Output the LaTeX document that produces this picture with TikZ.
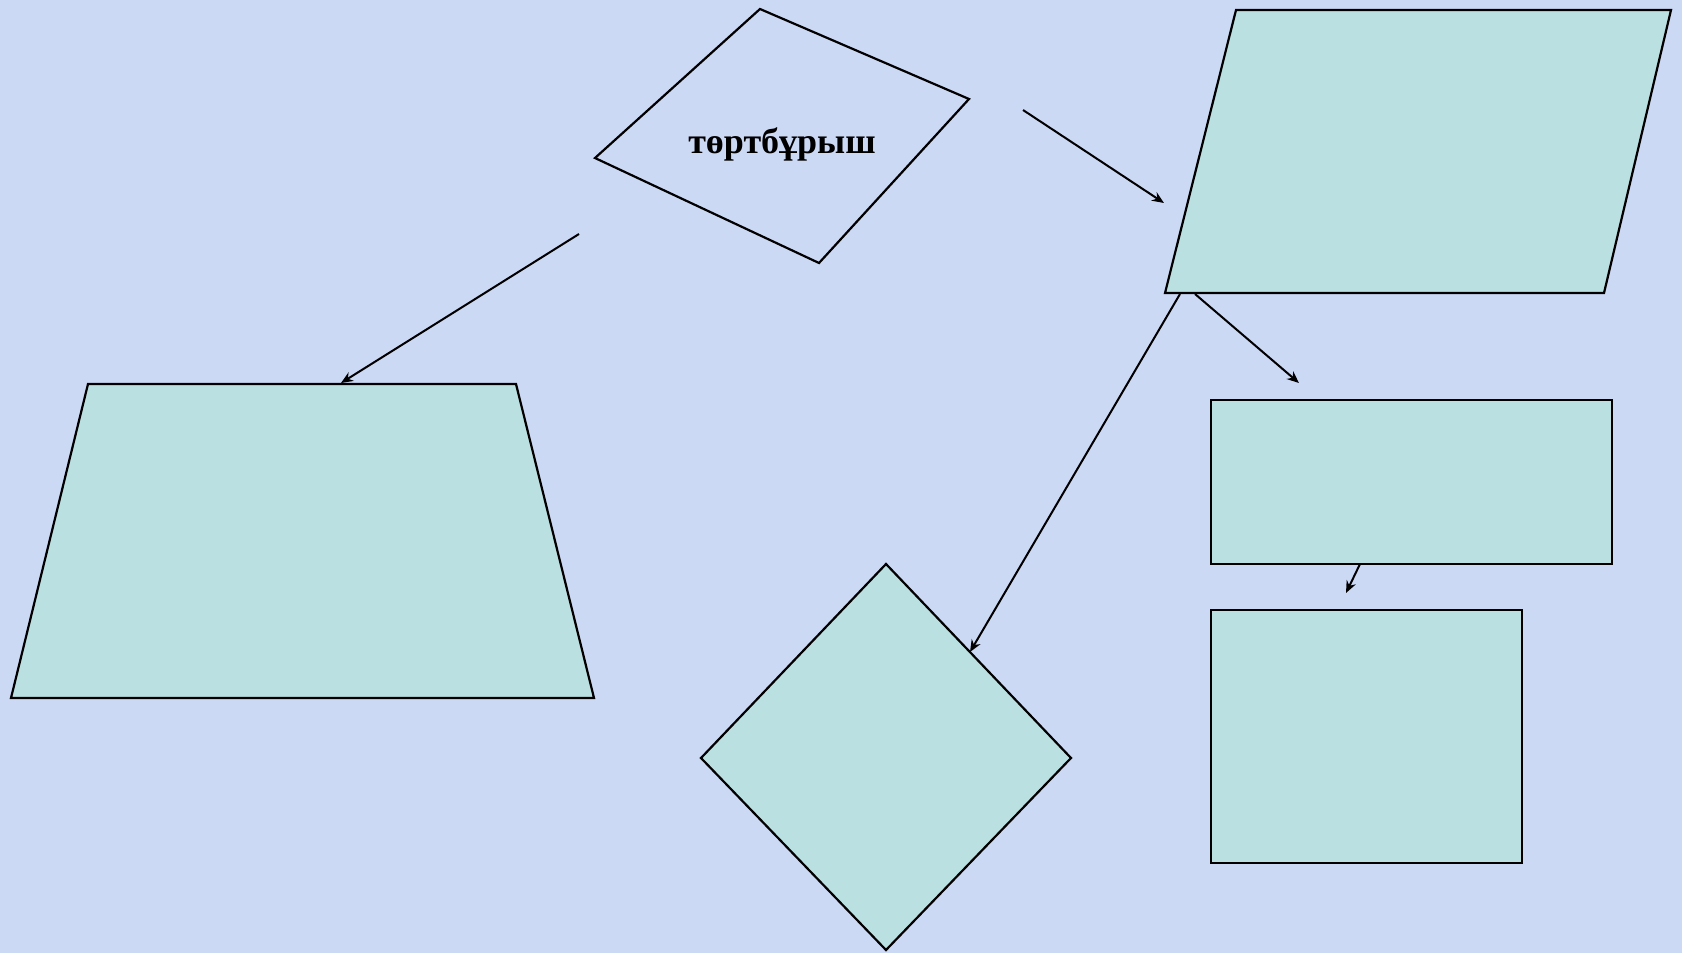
\documentclass[tikz,border=0pt]{standalone}
\usepackage{fontspec}
\setmainfont{Liberation Serif}
\usetikzlibrary{arrows.meta}
\definecolor{PageLilac}{RGB}{204,217,245}
\definecolor{ShapeTeal}{RGB}{186,224,226}
\tikzset{
  shapebox/.style={draw=black,fill=ShapeTeal,line width=1.1pt},
  outlinebox/.style={draw=black,line width=1.1pt},
  linkarrow/.style={-{Stealth[length=6pt,width=5pt]},line width=1pt,draw=black},
  titletext/.style={font=\bfseries\fontsize{18}{21}\selectfont,inner sep=0pt}
}

\begin{document}
\begin{tikzpicture}[x=0.5pt,y=-0.5pt]
% page
\fill[PageLilac] (0,0) rectangle (1682,953);
\useasboundingbox (0,0) rectangle (1682,953);
% top: the word
\coordinate (q1) at (760,9);
\coordinate (q2) at (969,99);
\coordinate (q3) at (819,263);
\coordinate (q4) at (595,158);
\draw[outlinebox] (q1) -- (q2) -- (q3) -- (q4) -- cycle;
\node[titletext, anchor=base] (title) at (782,153) {төртбұрыш};
% right: parallelogram
\coordinate (p1) at (1236,10);
\coordinate (p2) at (1671,10);
\coordinate (p3) at (1604,293);
\coordinate (p4) at (1165,293);
\draw[shapebox] (p1) -- (p2) -- (p3) -- (p4) -- cycle;
% left: trapezoid
\coordinate (t1) at (88,384);
\coordinate (t2) at (516,384);
\coordinate (t3) at (594,698);
\coordinate (t4) at (11,698);
\draw[shapebox] (t1) -- (t2) -- (t3) -- (t4) -- cycle;
% right: rectangle and square
\node[shapebox, anchor=north west, minimum width=200.5pt, minimum height=82pt, inner sep=0pt] (rect) at (1210,399) {};
\node[shapebox, anchor=north west, minimum width=155.5pt, minimum height=126.5pt, inner sep=0pt] (sq) at (1210,609) {};
% bottom: rhombus
\coordinate (r1) at (886,564);
\coordinate (r2) at (1071,758);
\coordinate (r3) at (886,950);
\coordinate (r4) at (701,758);
\draw[shapebox] (r1) -- (r2) -- (r3) -- (r4) -- cycle;
% arrows
\coordinate (a1s) at (1023,110);
\coordinate (a1e) at (1164,203);
\coordinate (a2s) at (579,234);
\coordinate (a2e) at (341,383);
\coordinate (a3s) at (1180,294);
\coordinate (a3e) at (970,652);
\coordinate (a4s) at (1195,294);
\coordinate (a4e) at (1299,383);
\coordinate (a5s) at (1360,564);
\coordinate (a5e) at (1346,593);
\draw[linkarrow] (a1s) -- (a1e);
\draw[linkarrow] (a2s) -- (a2e);
\draw[linkarrow] (a3s) -- (a3e);
\draw[linkarrow] (a4s) -- (a4e);
\draw[linkarrow] (a5s) -- (a5e);
\end{tikzpicture}
\end{document}
